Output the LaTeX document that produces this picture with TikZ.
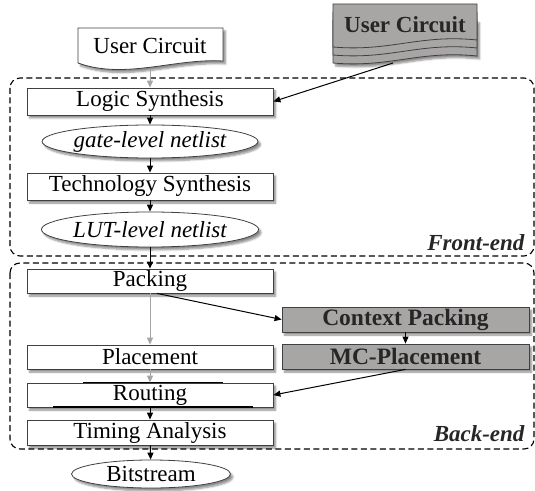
\documentclass[tikz,border=0pt]{standalone}
\usepackage{fontspec}
\setmainfont{Liberation Serif}
\usetikzlibrary{shadows.blur,arrows.meta,shapes.geometric}
\definecolor{boxgray}{RGB}{168,165,165}
\definecolor{arrgray}{RGB}{165,165,165}
\begin{document}
\begin{tikzpicture}[x=1bp,y=-1bp,
  font=\fontsize{23bp}{26bp}\selectfont,
  shd/.style={blur shadow={shadow xshift=2.5bp,shadow yshift=-3bp,shadow blur steps=6,shadow opacity=45}},
  stepbox/.style={draw=black!75,line width=0.8bp,fill=white,shd,minimum width=246bp,inner sep=0pt},
  netel/.style={ellipse,draw=black!75,line width=0.8bp,fill=white,shd,minimum width=215bp,inner sep=0pt},
  graybox/.style={draw=black!75,line width=0.8bp,fill=boxgray,shd,minimum width=247bp,minimum height=25bp,inner sep=0pt,font=\fontsize{23.5bp}{26bp}\selectfont\bfseries,text=black!85},
  frame/.style={draw=black,line width=1.1bp,dash pattern=on 6bp off 3.5bp,rounded corners=10bp},
  flabel/.style={anchor=east,font=\fontsize{23bp}{26bp}\selectfont\bfseries\itshape,text=black!85},
  barrow/.style={draw=black,line width=1bp,-{Triangle[length=7bp,width=6bp]}},
  garrow/.style={draw=arrgray,line width=1bp,-{Triangle[length=7bp,width=6bp]}},
  docline/.style={draw=black!75,line width=0.8bp}
]
\useasboundingbox (0,0) rectangle (535,491);
% frames
\draw[frame] (10,78) rectangle (534,256);
\draw[frame] (10,263) rectangle (534,449);
\node[flabel] (fe) at (528,243) {Front-end};
\node[flabel] (be) at (528,434) {Back-end};

% left user circuit document
\draw[docline,fill=white,shd] (78,28) -- (223,28) -- (223,61) .. controls (175,58) and (125,80) .. (78,63) -- cycle;
\node (uc) at (150,46) {User Circuit};
\coordinate (ucb) at (150,70);

% gray document stack
\draw[docline,fill=boxgray,shd] (333,20) -- (477,20) -- (477,56) .. controls (420,50) and (390,68) .. (333,63) -- cycle;
\draw[docline,fill=boxgray] (333,12) -- (477,12) -- (477,48) .. controls (420,42) and (390,60) .. (333,55) -- cycle;
\draw[docline,fill=boxgray] (333,4) -- (477,4) -- (477,40) .. controls (420,34) and (390,52) .. (333,47) -- cycle;
\node[font=\fontsize{23bp}{26bp}\selectfont\bfseries,text=black!85] (ucg) at (405,25) {User Circuit};
\coordinate (ucgb) at (393,63);

% flow nodes
\node[stepbox,minimum height=27bp] (ls) at (150,101.5) {Logic Synthesis};
\node[netel,minimum height=33bp] (gl) at (150,141.5) {\itshape gate-level netlist};
\node[stepbox,minimum height=27bp] (ts) at (150,186.5) {Technology Synthesis};
\node[netel,minimum height=35bp] (ll) at (150,229.5) {\itshape LUT-level netlist};
\node[stepbox,minimum height=24bp] (pk) at (150,281) {Packing};
\node[stepbox,minimum height=24bp] (pl) at (150,357) {Placement};
\node[stepbox,minimum height=24bp] (rt) at (150,395) {Routing};
\node[stepbox,minimum height=25bp] (ta) at (150,432.5) {Timing Analysis};
\node[netel,minimum width=159bp,minimum height=28bp] (bs) at (151,474) {Bitstream};

\node[graybox] (cp) at (405.5,319.5) {Context Packing};
\node[graybox] (mc) at (405.5,356.5) {MC-Placement};

% thick marks on routing
\draw[line width=1.8bp] (83,382.5) -- (223,382.5);
\draw[line width=1.8bp] (53,407) -- (253,407);

% connectors
\draw[garrow] (ucb) -- (ls.north);
\draw[barrow] (ucgb) -- (ls.east);
\draw[barrow] (ls) -- (gl);
\draw[barrow] (gl) -- (ts);
\draw[barrow] (ts) -- (ll);
\draw[barrow] (ll) -- (pk);
\draw[garrow] (pk) -- (pl);
\draw[garrow] (pl) -- (rt);
\draw[barrow] (rt) -- (ta);
\draw[barrow] (ta) -- (bs);
\draw[barrow] ([xshift=7bp]pk.south) -- (cp.west);
\draw[barrow] (cp) -- (mc);
\draw[barrow] (mc.south) -- (rt.east);
\end{tikzpicture}
\end{document}
